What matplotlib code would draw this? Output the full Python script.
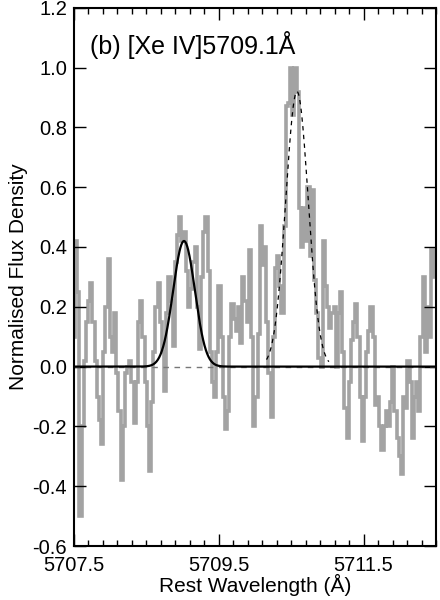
import numpy as np
import matplotlib
matplotlib.use("Agg")
import matplotlib.pyplot as plt
from matplotlib.ticker import FixedLocator, FormatStrFormatter

plt.rcParams['font.family'] = ['Liberation Sans', 'DejaVu Sans']
plt.rcParams['axes.unicode_minus'] = False

# observed spectrum, 0.03 A bins starting at 5707.50
wave_start = 5707.50
wave_step = 0.03
flux = [
    0.10, 0.42, 0.25, -0.50, -0.20, 0.02, 0.15, 0.22, 0.28, 0.15,
    0.02, -0.10, -0.18, -0.26, 0.05, 0.20, 0.36, 0.10, 0.05, 0.18,
    -0.02, -0.15, -0.38, -0.20, -0.02, 0.00, 0.02, -0.05, -0.19, -0.05,
    0.15, 0.22, 0.10, -0.05, -0.20, -0.35, -0.12, 0.05, 0.20, 0.28,
    0.15, 0.05, -0.08, 0.18, 0.30, 0.22, 0.07, 0.35, 0.44, 0.50,
    0.42, 0.45, 0.32, 0.20, 0.26, 0.35, 0.40, 0.20, 0.06, 0.30,
    0.45, 0.50, 0.32, 0.05, -0.05, -0.10, 0.05, 0.27, 0.10, -0.10,
    -0.21, -0.15, 0.10, 0.21, 0.16, 0.12, 0.20, 0.08, 0.30, 0.22,
    0.15, 0.39, 0.10, -0.20, -0.10, 0.11, 0.47, 0.34, 0.40, 0.15,
    -0.02, -0.17, 0.10, 0.33, 0.37, 0.27, 0.18, 0.47, 0.87, 0.88,
    1.00, 0.84, 1.00, 0.92, 0.53, 0.40, 0.53, 0.42, 0.60, 0.37,
    0.59, 0.29, 0.18, 0.03, 0.00, 0.42, 0.27, 0.20, 0.13, 0.18,
    0.20, 0.00, 0.18, 0.25, 0.05, -0.14, -0.24, -0.05, 0.09, 0.15,
    0.21, 0.10, -0.10, -0.25, -0.10, 0.05, 0.12, 0.20, 0.10, -0.13,
    -0.10, -0.20, -0.28, -0.20, -0.15, -0.20, -0.12, 0.00, -0.15, -0.24,
    -0.30, -0.36, -0.10, -0.14, 0.02, -0.05, -0.24, -0.10, -0.05, -0.15,
    0.10, 0.30, 0.05, 0.20, 0.10, 0.39, 0.30,
]
wave = wave_start + wave_step * np.arange(len(flux))

# gaussian fits: [Xe IV] line (solid) and neighbouring line (dashed)
xe_centre, xe_amp, xe_sigma = 5709.02, 0.42, 0.15
other_centre, other_amp, other_sigma = 5710.58, 0.92, 0.155
other_range = (5710.16, 5711.02)

xlim = (5707.5, 5712.5)
ylim = (-0.6, 1.2)
xticks = [5707.5, 5709.5, 5711.5]

fig = plt.figure(figsize=(4.4, 6.0), dpi=100)
ax = fig.add_axes([0.168, 0.09, 0.823, 0.897])

ax.plot(wave, flux, drawstyle='steps-mid', color='#a3a3a3', lw=2.6,
        zorder=1, solid_joinstyle='miter', solid_capstyle='butt')

ax.plot(xlim, [0, 0], color='#777777', lw=1.0, ls=(0, (4, 4)), zorder=2)

xg = np.linspace(xlim[0], xlim[1], 800)
ax.plot(xg, xe_amp * np.exp(-0.5 * ((xg - xe_centre) / xe_sigma) ** 2),
        color='black', lw=1.6, zorder=3)

xo = np.linspace(other_range[0], other_range[1], 200)
ax.plot(xo, other_amp * np.exp(-0.5 * ((xo - other_centre) / other_sigma) ** 2),
        color='black', lw=0.9, ls=(0, (3.5, 3.5)), zorder=3)

ax.set_xlim(*xlim)
ax.set_ylim(*ylim)
ax.xaxis.set_major_locator(FixedLocator(xticks))
ax.xaxis.set_minor_locator(FixedLocator(np.arange(5707.5, 5712.51, 0.2)))
ax.xaxis.set_major_formatter(FormatStrFormatter('%.1f'))
ax.yaxis.set_major_locator(FixedLocator(np.arange(-0.6, 1.21, 0.2)))
ax.yaxis.set_major_formatter(FormatStrFormatter('%.1f'))

ax.tick_params(which='both', direction='in', top=True, right=True,
               labelsize=14.5, width=1.0)
ax.tick_params(axis='x', pad=7.5)
ax.tick_params(axis='y', pad=5)
ax.tick_params(which='major', length=8.5)
ax.tick_params(which='minor', length=4.5)
for s in ax.spines.values():
    s.set_linewidth(1.5)

ax.set_xlabel('Rest Wavelength (Å)', fontsize=15, labelpad=-1)
ax.set_ylabel('Normalised Flux Density', fontsize=15, labelpad=3)

ax.text(0.045, 0.93, '(b) [Xe IV]5709.1Å', transform=ax.transAxes,
        fontsize=18, ha='left', va='center')

fig.savefig('out.png', dpi=100)
